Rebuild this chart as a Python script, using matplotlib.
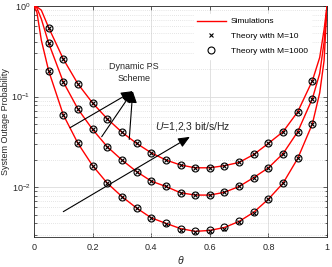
import numpy as np
import matplotlib
matplotlib.use("Agg")
import matplotlib.pyplot as plt
from matplotlib.lines import Line2D

plt.rcParams['font.family'] = ['Liberation Sans', 'DejaVu Sans']
plt.rcParams['mathtext.fontset'] = 'custom'
plt.rcParams['mathtext.rm'] = 'Liberation Sans'
plt.rcParams['mathtext.it'] = 'Liberation Sans:italic'

######## data

# theory markers (theta = 0.05 ... 0.95)
theta_pts = [0.05, 0.10, 0.15, 0.20, 0.25, 0.30, 0.35, 0.40, 0.45, 0.50,
             0.55, 0.60, 0.65, 0.70, 0.75, 0.80, 0.85, 0.90, 0.95]

# U = 3 bit/s/Hz (top curve)
u3_m1000 = [0.578, 0.26, 0.138, 0.085, 0.057, 0.0405, 0.0305, 0.024, 0.020, 0.0176,
            0.0164, 0.0164, 0.0173, 0.0188, 0.023, 0.0305, 0.041, 0.068, 0.15]
# U = 2 bit/s/Hz
u2_m1000 = [0.39, 0.145, 0.073, 0.0434, 0.028, 0.020, 0.0149, 0.0117, 0.0102, 0.0087,
            0.0082, 0.0082, 0.0088, 0.0102, 0.0128, 0.0164, 0.0235, 0.041, 0.095]
# U = 1 bit/s/Hz (bottom curve)
u1_m1000 = [0.193, 0.063, 0.0305, 0.0173, 0.0111, 0.0079, 0.0059, 0.0046, 0.0040, 0.0035,
            0.00326, 0.00334, 0.0036, 0.0042, 0.0053, 0.0074, 0.0111, 0.0208, 0.050]

# M = 10 theory sits on top of M = 1000, a touch lower near the bottom
u3_m10 = u3_m1000
u2_m10 = u2_m1000
u1_m10 = [0.193, 0.063, 0.0305, 0.0173, 0.0111, 0.0079, 0.0059, 0.0046, 0.0039, 0.0034,
          0.00318, 0.00326, 0.0035, 0.0041, 0.0052, 0.0074, 0.0111, 0.0208, 0.050]

# simulation curves (red lines), extra samples near both ends
theta_sim = [0.0, 0.01, 0.025] + theta_pts + [0.975, 0.99, 1.0]
u3_sim = [1.0, 0.98, 0.90] + u3_m1000 + [0.27, 0.55, 1.0]
u2_sim = [1.0, 0.95, 0.72] + u2_m1000 + [0.18, 0.40, 1.0]
u1_sim = [1.0, 0.85, 0.42] + u1_m1000 + [0.11, 0.25, 1.0]

xtick_vals = [0, 0.2, 0.4, 0.6, 0.8, 1]
xtick_labels = ['0', '0.2', '0.4', '0.6', '0.8', '1']

######## figure

fig = plt.figure(figsize=(3.32, 2.67), dpi=100)
ax = fig.add_axes([0.1024, 0.111, 0.8826, 0.8665])

for sim in (u3_sim, u2_sim, u1_sim):
    ax.plot(theta_sim, sim, color='red', lw=1.0, zorder=3)
for m10 in (u3_m10, u2_m10, u1_m10):
    ax.plot(theta_pts, m10, ls='none', marker='x', ms=3.5, mew=0.8, color='black', zorder=4)
for m1000 in (u3_m1000, u2_m1000, u1_m1000):
    ax.plot(theta_pts, m1000, ls='none', marker='o', ms=5, mew=0.8, mfc='none', mec='black', zorder=4)

ax.set_yscale('log')
ax.set_xlim(0, 1)
ax.set_ylim(2.8e-3, 1)
ax.set_xticks(xtick_vals)
ax.set_xticklabels(xtick_labels)

ax.grid(True, which='major', color='#dcdcdc', lw=0.6, ls='-')
ax.grid(True, which='minor', axis='y', color='#cccccc', lw=0.5, ls=(0, (1, 2)))
ax.set_axisbelow(True)

for s in ax.spines.values():
    s.set_color('#262626')
    s.set_linewidth(0.6)
ax.tick_params(which='both', direction='in', top=True, right=True, colors='#262626',
               labelsize=6.5, width=0.5)
ax.tick_params(which='major', length=3, pad=4)
ax.tick_params(axis='y', which='major', pad=2.5)
ax.tick_params(which='minor', length=1.8)

ax.set_ylabel('System Outage Probability', fontsize=6.5, color='#262626')
ax.yaxis.set_label_coords(-0.083, 0.5)
ax.set_xlabel(r'$\theta$', fontsize=7.5, color='#262626', va='center')
ax.xaxis.set_label_coords(0.5, -0.098)

# annotations
ax.text(0.341, 0.185, 'Dynamic PS\nScheme', fontsize=6.5, ha='center', va='center',
        linespacing=1.5, color='#262626')
arrow_kw = dict(arrowstyle='-|>,head_length=0.7,head_width=0.3', color='black', lw=0.8,
                shrinkA=0, shrinkB=0)
for tail in [(0.123, 0.0454), (0.231, 0.0361), (0.325, 0.0337)]:
    ax.annotate('', xy=(0.337, 0.115), xytext=tail, arrowprops=arrow_kw)
ax.annotate('', xy=(0.532, 0.036), xytext=(0.10, 0.00538), arrowprops=arrow_kw)
ax.text(0.413, 0.047, r'$U$=1,2,3 bit/s/Hz', fontsize=7.5, ha='left', va='center',
        color='#262626')

handles = [Line2D([], [], color='red', lw=1.0),
           Line2D([], [], ls='none', marker='x', ms=3.5, mew=0.8, color='black'),
           Line2D([], [], ls='none', marker='o', ms=5, mew=0.8, mfc='none', mec='black')]
leg = ax.legend(handles, ['Simulations', 'Theory with M=10', 'Theory with M=1000'],
                loc='upper right', bbox_to_anchor=(0.955, 0.975), fontsize=6,
                handlelength=3.5, handletextpad=0.6, labelspacing=0.85,
                frameon=True, fancybox=False, borderaxespad=0.3)
leg.get_frame().set_edgecolor('white')
leg.get_frame().set_facecolor('white')
leg.get_frame().set_alpha(1)

fig.savefig('out.png', dpi=100)
